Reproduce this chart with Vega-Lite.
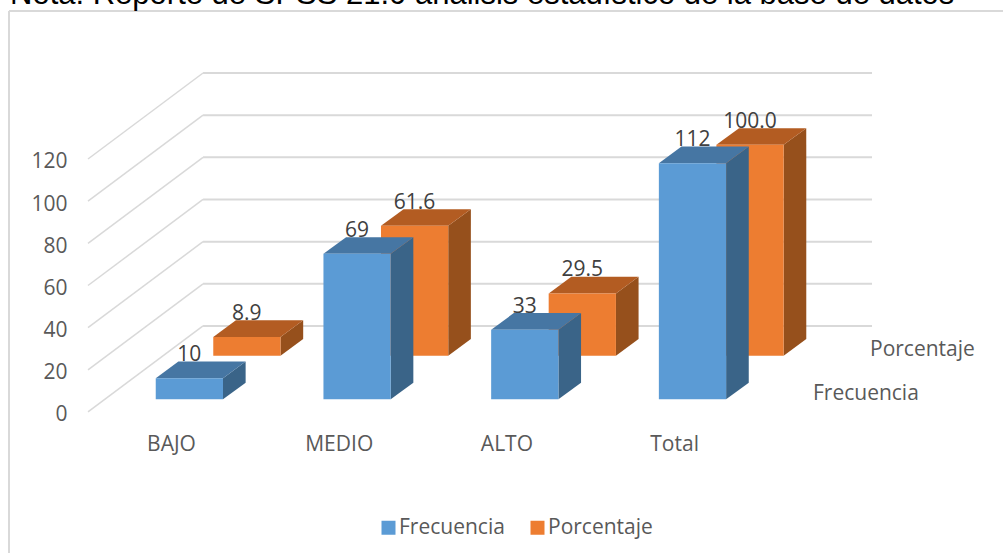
{
"$schema":"https://vega.github.io/schema/vega-lite/v6.json",
"width":994,"height":542,
"autosize":{"type":"none"},
"padding":{"left":9,"top":11,"right":0,"bottom":0},
"background":"white",
"view":{"stroke":null,"fill":"white"},
"config":{"axis":{"grid":false,"domain":false,"ticks":false,"title":null,"labelFont":"Open Sans","labelFontSize":21,"labelColor":"#595959","labelOverlap":false,"labelFlush":false,"labelPadding":0}},
"title":{"text":"Nota: Reporte de SPSS 21.0 análisis estadístico de la base de datos","anchor":"start","frame":"group","offset":0,"dx":1,"dy":25,"baseline":"alphabetic","font":"Liberation Sans","fontSize":31,"fontWeight":"normal","color":"#000000"},
"datasets":{
"filas":[
{"cat":"BAJO","serie":"Frecuencia","valor":10},
{"cat":"MEDIO","serie":"Frecuencia","valor":69},
{"cat":"ALTO","serie":"Frecuencia","valor":33},
{"cat":"Total","serie":"Frecuencia","valor":112},
{"cat":"BAJO","serie":"Porcentaje","valor":8.9},
{"cat":"MEDIO","serie":"Porcentaje","valor":61.6},
{"cat":"ALTO","serie":"Porcentaje","valor":29.5},
{"cat":"Total","serie":"Porcentaje","valor":100.0}
],
"marcas":[{"v":0},{"v":20},{"v":40},{"v":60},{"v":80},{"v":100},{"v":120}],
"series":[{"serie":"Frecuencia"},{"serie":"Porcentaje"}]
},
"data":{"name":"filas"},
"transform":[
{"calculate":"indexof(['BAJO','MEDIO','ALTO','Total'],datum.cat)","as":"i"},
{"calculate":"datum.serie=='Porcentaje'?1:0","as":"s"},
{"calculate":"datum.i-0.097+0.343*datum.s","as":"xl"},
{"calculate":"datum.xl+0.401","as":"xr"},
{"calculate":"6+20.7*datum.s","as":"base"},
{"calculate":"datum.base+datum.valor","as":"top"},
{"calculate":"datum.xl+0.2","as":"xc"},
{"calculate":"format(datum.valor,datum.s==1?'.1f':'d')","as":"etiqueta"},
{"calculate":"0","as":"frente"},
{"calculate":"1","as":"fondo"},
{"fold":["frente","fondo"],"as":["cara","d"]},
{"calculate":"datum.xl+0.135*datum.d","as":"pxl"},
{"calculate":"datum.xr+0.135*datum.d","as":"pxr"},
{"calculate":"datum.top+7.9*datum.d","as":"ptop"},
{"calculate":"datum.base+7.9*datum.d","as":"pbase"}
],
"layer":[
{"data":{"name":"marcas"},"transform":[{"calculate":"datum.v+40.8","as":"w"}],
 "mark":{"type":"rule","color":"#d9d9d9","strokeWidth":1.5},
 "encoding":{
 "x":{"datum":-0.501,"type":"quantitative","scale":{"domain":[-0.972,4.955],"nice":false,"zero":false},
   "axis":{"values":[0,1,2,3],"labelExpr":"['BAJO','MEDIO','ALTO','Total'][datum.value]","offset":-120,"labelOffset":-1}},
 "x2":{"datum":0.185},
 "y":{"field":"v","type":"quantitative","scale":{"domain":[-66.9,190.2],"nice":false,"zero":false},
   "axis":{"values":[0,20,40,60,80,100,120],"offset":-58,"labelOffset":3}},
 "y2":{"field":"w"}}},
{"data":{"name":"marcas"},"transform":[{"calculate":"datum.v+40.8","as":"w"}],
 "mark":{"type":"rule","color":"#d9d9d9","strokeWidth":2},
 "encoding":{
 "x":{"datum":0.185,"type":"quantitative"},
 "x2":{"datum":4.174},
 "y":{"field":"w","type":"quantitative"}}},
{"data":{"values":[{"marco":"izquierda"}]},
 "mark":{"type":"rule","color":"#d9d9d9","strokeWidth":2},
 "encoding":{"x":{"datum":-0.972,"type":"quantitative"},"y":{"datum":-66.9,"type":"quantitative"},"y2":{"datum":190.2}}},
{"data":{"values":[{"marco":"arriba"}]},
 "mark":{"type":"rule","color":"#d9d9d9","strokeWidth":2},
 "encoding":{"x":{"datum":-0.972,"type":"quantitative"},"x2":{"datum":4.955},"y":{"datum":190.2,"type":"quantitative"}}},
{"data":{"name":"series"},"transform":[
  {"calculate":"datum.serie=='Porcentaje'?1:0","as":"s"},
  {"calculate":"3.822+0.34*datum.s","as":"x0"},
  {"calculate":"8.6+20.8*datum.s","as":"y0"}],
 "mark":{"type":"text","align":"left","baseline":"middle","font":"Open Sans","fontSize":21,"color":"#595959"},
 "encoding":{"x":{"field":"x0","type":"quantitative"},"y":{"field":"y0","type":"quantitative"},"text":{"field":"serie"}}},

{"transform":[{"filter":"datum.s==1"}],"mark":{"type":"area","orient":"vertical","color":"#96501c"},
 "encoding":{"x":{"field":"pxr","type":"quantitative"},"y":{"field":"ptop","type":"quantitative"},"y2":{"field":"pbase"},"detail":{"field":"cat"}}},
{"transform":[{"filter":"datum.s==1"}],"mark":{"type":"area","orient":"horizontal","color":"#b35c22"},
 "encoding":{"y":{"field":"ptop","type":"quantitative"},"x":{"field":"pxl","type":"quantitative"},"x2":{"field":"pxr"},"detail":{"field":"cat"}}},
{"transform":[{"filter":"datum.s==1 && datum.cara=='frente'"}],"mark":{"type":"rect"},
 "encoding":{"x":{"field":"xl","type":"quantitative"},"x2":{"field":"xr"},"y":{"field":"top","type":"quantitative"},"y2":{"field":"base"},
 "color":{"field":"serie","type":"nominal","scale":{"domain":["Frecuencia","Porcentaje"],"range":["#5b9bd5","#ed7d31"]},
  "legend":{"title":null,"orient":"none","legendX":369,"legendY":506,"direction":"horizontal","symbolType":"square","symbolSize":196,"symbolStrokeWidth":0,"labelFont":"Open Sans","labelFontSize":21,"labelColor":"#595959","columnPadding":22,"labelOffset":0,"symbolOpacity":1}}}},

{"transform":[{"filter":"datum.s==0"}],"mark":{"type":"area","orient":"vertical","color":"#3a6488"},
 "encoding":{"x":{"field":"pxr","type":"quantitative"},"y":{"field":"ptop","type":"quantitative"},"y2":{"field":"pbase"},"detail":{"field":"cat"}}},
{"transform":[{"filter":"datum.s==0"}],"mark":{"type":"area","orient":"horizontal","color":"#4676a3"},
 "encoding":{"y":{"field":"ptop","type":"quantitative"},"x":{"field":"pxl","type":"quantitative"},"x2":{"field":"pxr"},"detail":{"field":"cat"}}},
{"transform":[{"filter":"datum.s==0 && datum.cara=='frente'"}],"mark":{"type":"rect"},
 "encoding":{"x":{"field":"xl","type":"quantitative"},"x2":{"field":"xr"},"y":{"field":"top","type":"quantitative"},"y2":{"field":"base"},
 "color":{"field":"serie","type":"nominal"}}},

{"transform":[{"filter":"datum.cara=='frente'"}],"mark":{"type":"text","baseline":"middle","align":"center","dy":-23,"font":"Open Sans","fontSize":21,"color":"#404040"},
 "encoding":{"x":{"field":"xc","type":"quantitative"},"y":{"field":"top","type":"quantitative"},"text":{"field":"etiqueta"}}}
]
}
